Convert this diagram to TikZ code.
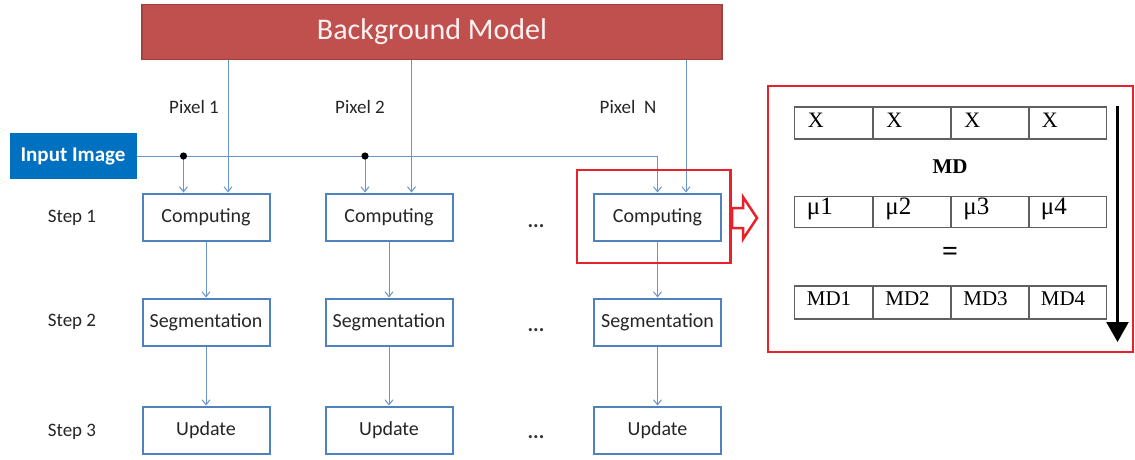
\documentclass[tikz,border=0pt]{standalone}
\usepackage{fontspec}
\setmainfont{Carlito}
\newfontfamily\tms{Liberation Serif}
\usetikzlibrary{arrows.meta,calc}
\definecolor{obox}{HTML}{4F81BD}
\definecolor{oline}{HTML}{6A95CC}
\definecolor{bgred}{HTML}{C0504D}
\definecolor{bgedge}{HTML}{A0403D}
\definecolor{inblue}{HTML}{0070C0}
\definecolor{hired}{HTML}{E8212B}
\definecolor{cellgray}{HTML}{606060}
\begin{document}
\begin{tikzpicture}[x=1pt,y=-1pt,
  stepbox/.style={draw=obox,line width=2pt,fill=white,minimum width=127pt,minimum height=47pt,inner sep=0pt,font=\fontsize{20}{24}\selectfont,text=black!85},
  conn/.style={draw=oline,line width=1pt,-{Straight Barb[length=5pt,width=8pt]}},
  plain/.style={draw=oline,line width=1pt},
  lbl/.style={font=\fontsize{19}{22}\selectfont,text=black!85},
  dots/.style={font=\bfseries\fontsize{21}{24}\selectfont,text=black!80},
  cell/.style={draw=cellgray,line width=1.6pt,minimum width=78pt,inner sep=0pt},
  celltxt/.style={font=\tms\fontsize{22}{24}\selectfont,anchor=west,inner sep=0pt},
  hibox/.style={draw=hired,line width=2.5pt,inner sep=0pt}
]
\useasboundingbox (0,0) rectangle (1135,459);

% background model
\node[draw=bgedge,line width=1.5pt,fill=bgred,minimum width=580pt,minimum height=55pt,inner sep=0pt,text=white!95!red,font=\fontsize{30}{36}\selectfont] (bg) at (432,32) {Background Model};

% input image
\node[fill=inblue,minimum width=127pt,minimum height=46pt,inner sep=0pt,text=white,font=\bfseries\fontsize{21}{24}\selectfont] (in) at (73,156) {Input Image};

% step labels
\node[lbl] (s1) at (72,218) {Step 1};
\node[lbl] (s2) at (72,322) {Step 2};
\node[lbl] (s3) at (72,432) {Step 3};

% pixel labels
\node[lbl] (p1) at (194,107) {Pixel 1};
\node[lbl] (p2) at (360,107) {Pixel 2};
\node[lbl] (pn) at (628,107) {Pixel~ N};

% boxes
\node[stepbox] (c1) at (206,217) {Computing};
\node[stepbox] (c2) at (389,217) {Computing};
\node[stepbox] (c3) at (657.5,217) {Computing};
\node[stepbox] (g1) at (206,322) {Segmentation};
\node[stepbox] (g2) at (389,322) {Segmentation};
\node[stepbox] (g3) at (657.5,322) {Segmentation};
\node[stepbox] (u1) at (206,430) {Update};
\node[stepbox] (u2) at (389,430) {Update};
\node[stepbox] (u3) at (657.5,430) {Update};

% ellipses
\node[dots] (d1) at (536,226) {...};
\node[dots] (d2) at (536,330) {...};
\node[dots] (d3) at (536,437) {...};

% input line
\coordinate (j1) at (183.5,156);
\coordinate (j2) at (365,156);
\coordinate (j3) at (657.5,156);
\draw[plain] (in.east) -- (j3);
\draw[conn] (j3) -- (c3.north);
\draw[conn] (j1) -- (j1 |- c1.north);
\draw[conn] (j2) -- (j2 |- c2.north);
\fill (j1) circle (3.6pt);
\fill (j2) circle (3.6pt);

% background model lines
\coordinate (b1) at (228,0);
\coordinate (b2) at (411.5,0);
\coordinate (b3) at (686,0);
\draw[conn] (b1 |- bg.south) -- (b1 |- c1.north);
\draw[conn] (b2 |- bg.south) -- (b2 |- c2.north);
\draw[conn] (b3 |- bg.south) -- (b3 |- c3.north);

% step connectors
\draw[conn] (c1.south) -- (g1.north);
\draw[conn] (c2.south) -- (g2.north);
\draw[conn] (c3.south) -- (g3.north);
\draw[conn] (g1.south) -- (u1.north);
\draw[conn] (g2.south) -- (u2.north);
\draw[conn] (g3.south) -- (u3.north);

% highlight
\node[hibox,minimum width=153.5pt,minimum height=93pt] (hl) at (653.75,216.5) {};
\draw[hibox,line join=miter] (732,208) -- (743,208) -- (743,197) -- (757,218) -- (743,239) -- (743,228) -- (732,228) -- cycle;

% detail panel
\node[hibox,minimum width=365pt,minimum height=266pt] (panel) at (950.5,219) {};

\foreach \r/\y/\h in {a/123/32,b/212/31,c/302.5/33}
  \foreach \c/\x in {1/833.5,2/912,3/990,4/1067.5}
    \node[cell,minimum height=\h pt] (cell\r\c) at (\x,\y) {};

\foreach \c in {1,2,3,4}
  \node[celltxt] (ta\c) at ([shift={(14,-3)}]cella\c.west) {X};
\foreach \c in {1,2,3,4}
  \node[celltxt,font=\tms\fontsize{25}{28}\selectfont] (tb\c) at ([shift={(13,-3)}]cellb\c.west) {μ\c};
\foreach \c in {1,2,3,4}
  \node[celltxt,font=\tms\fontsize{21}{24}\selectfont] (tc\c) at ([shift={(13,-4)}]cellc\c.west) {MD\c};

\node[font=\tms\bfseries\fontsize{21}{24}\selectfont] (md) at (950,167) {MD};
\node[font=\tms\bfseries\fontsize{28}{30}\selectfont] (eq) at (950,254) {=};

\coordinate (at) at (1117.5,106);
\coordinate (ab) at (1117.5,342);
\draw[line width=2.5pt,-{Triangle[length=20pt,width=22pt]}] (at) -- (ab);
\end{tikzpicture}
\end{document}
